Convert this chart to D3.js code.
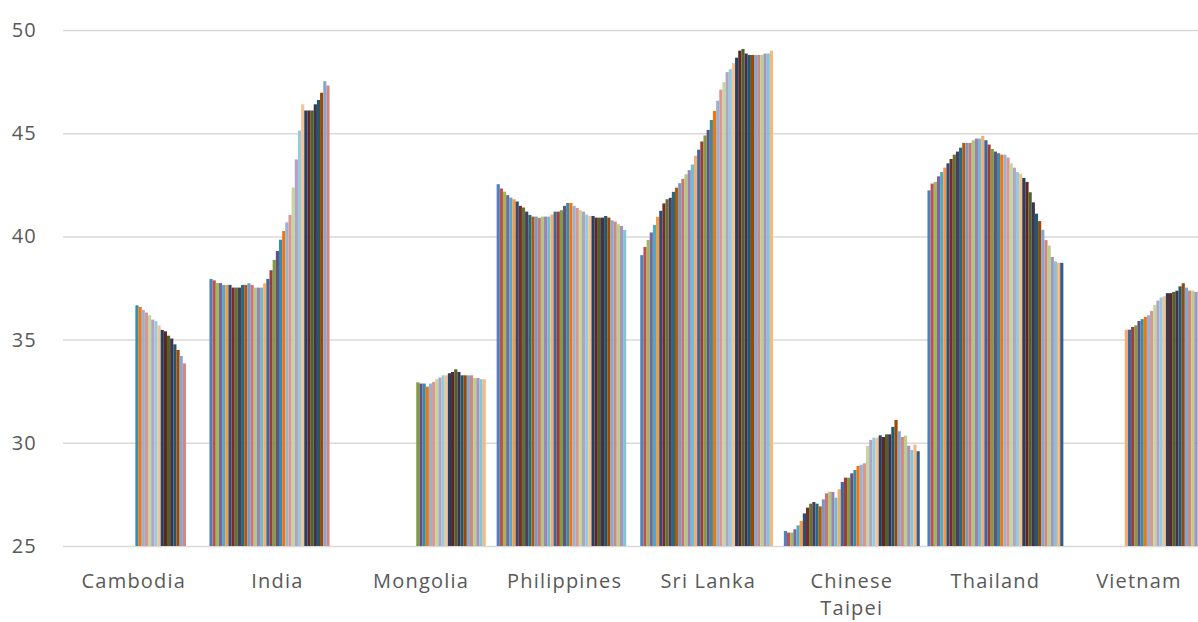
<!DOCTYPE html>
<html>
<head>
<meta charset="utf-8">
<script src="https://cdn.jsdelivr.net/npm/d3@7"></script>
<style>
  body { margin: 0; background: #ffffff; }
  .axis text { font-family: "Open Sans", sans-serif; font-size: 20px; fill: #595959; letter-spacing: 1.2px; }
  .axis .domain { display: none; }
</style>
</head>
<body>
<div id="chart"></div>
<script>
// Categories and value axis ticks
var categories = ["Cambodia", "India", "Mongolia", "Philippines", "Sri Lanka", "Chinese Taipei", "Thailand", "Vietnam"];
var yTicks = [25, 30, 35, 40, 45, 50];
var seriesCount = 43;

// One value per series (43 series, null = no data)
var cambodia = [null, null, null, null, null, null, null, null, null, null,
  null, null, null, null, null, null, null, null, null, null, null, null,
  36.66, 36.58, 36.44, 36.31, 36.18, 35.97, 35.89, 35.69, 35.47, 35.40,
  35.19, 35.05, 34.77, 34.50, 34.21, 33.85,
  null, null, null, null, null];
var india = [37.94, 37.87, 37.74, 37.74, 37.65, 37.65, 37.65, 37.52, 37.52, 37.52,
  37.65, 37.65, 37.73, 37.65, 37.52, 37.52, 37.52, 37.73, 37.94, 38.36,
  38.86, 39.29, 39.84, 40.26, 40.68, 41.04, 42.37, 43.73, 45.13, 46.40,
  46.10, 46.10, 46.10, 46.40, 46.61, 46.96, 47.52, 47.31,
  null, null, null, null, null];
var mongolia = [null, null, null, null, null, null, null, null, null, null,
  null, null, null, null, null, null, null, null, null, null,
  32.93, 32.87, 32.87, 32.72, 32.87, 32.95, 33.08, 33.16, 33.27, 33.27,
  33.37, 33.43, 33.56, 33.43, 33.27, 33.27, 33.27, 33.27, 33.14, 33.14,
  33.08, 33.08, null];
var philippines = [42.53, 42.32, 42.17, 42.00, 41.88, 41.80, 41.69, 41.48, 41.40, 41.20,
  41.04, 40.96, 40.96, 40.90, 40.96, 40.96, 40.96, 41.06, 41.20, 41.20,
  41.27, 41.48, 41.62, 41.62, 41.48, 41.38, 41.27, 41.20, 41.06, 40.99,
  40.99, 40.91, 40.91, 40.91, 40.99, 40.91, 40.78, 40.72, 40.59, 40.51,
  40.31, null, null];
var sriLanka = [39.09, 39.49, 39.83, 40.19, 40.55, 40.95, 41.24, 41.60, 41.80, 41.87,
  42.16, 42.36, 42.58, 42.79, 43.01, 43.21, 43.48, 43.91, 44.20, 44.60,
  44.89, 45.16, 45.64, 46.08, 46.57, 47.11, 47.47, 47.96, 48.10, 48.39,
  48.66, 49.00, 49.08, 48.86, 48.79, 48.79, 48.79, 48.79, 48.79, 48.86,
  48.86, 49.00, null];
var chineseTaipei = [25.73, 25.65, 25.65, 25.81, 26.00, 26.21, 26.58, 26.86, 27.05, 27.13,
  27.05, 26.92, 27.26, 27.55, 27.63, 27.62, 27.34, 27.75, 28.10, 28.31,
  28.31, 28.52, 28.68, 28.88, 28.94, 29.01, 29.85, 30.14, 30.25, 30.25,
  30.36, 30.28, 30.41, 30.41, 30.77, 31.11, 30.56, 30.28, 30.35, 29.86,
  29.65, 29.91, 29.59];
var thailand = [42.23, 42.56, 42.64, 42.91, 43.12, 43.33, 43.54, 43.75, 43.96, 44.11,
  44.30, 44.53, 44.53, 44.53, 44.66, 44.74, 44.74, 44.87, 44.66, 44.45,
  44.24, 44.11, 44.03, 43.96, 43.96, 43.82, 43.54, 43.33, 43.12, 43.04,
  42.83, 42.64, 42.14, 41.65, 41.10, 40.74, 40.32, 39.82, 39.56, 39.00,
  38.79, 38.72, 38.72];
var vietnam = [null, null, null, null, null, null, null, null, null, null,
  null, null, null, null, null, null, null,
  35.48, 35.48, 35.61, 35.69, 35.90, 35.99, 36.10, 36.18, 36.39, 36.68,
  36.89, 37.04, 37.10, 37.25, 37.25, 37.31, 37.37, 37.58, 37.73, 37.52,
  37.37, 37.37, 37.31, 37.37, 37.30, null];

var categoryValues = [cambodia, india, mongolia, philippines, sriLanka, chineseTaipei, thailand, vietnam];

// Office theme accents and the shade steps Excel cycles through after six series
var accents = ["#4F81BD", "#C0504D", "#9BBB59", "#8064A2", "#4BACC6", "#F79646"];
var shades = [[1, 0], [0.6, 0], [0.8, 0.2], [0.8, 0], [0.6, 0.4], [0.5, 0], [0.7, 0.3], [0.7, 0], [0.5, 0.5]];

function seriesColor(i) {
    var c = d3.hsl(accents[i % 6]);
    var s = shades[Math.floor(i / 6)];
    c.l = c.l * s[0] + s[1];
    return c.formatHex();
}

function init() {
    var w = 1198;
    var h = 622;
    var left = 62;
    var step = 143.6;
    var top = 30;
    var bottom = 546;

    var svg = d3.select("#chart")
        .append("svg")
        .attr("width", w)
        .attr("height", h);

    // Category scale; the plot runs past the right edge like the original
    var x0 = d3.scaleBand()
        .domain(categories)
        .range([left, left + step * categories.length])
        .paddingInner(0.0536)
        .paddingOuter(0.0268);

    var x1 = d3.scaleBand()
        .domain(d3.range(seriesCount))
        .range([0, x0.bandwidth()]);

    var y = d3.scaleLinear()
        .domain([25, 50])
        .range([bottom, top]);

    // Value axis with gridlines
    var yAxis = svg.append("g")
        .attr("class", "axis y")
        .attr("transform", "translate(" + (left + 1) + ",0)")
        .call(d3.axisLeft(y)
            .tickValues(yTicks)
            .tickSizeInner(-(w - left))
            .tickSizeOuter(0)
            .tickPadding(26));

    yAxis.selectAll(".tick line")
        .attr("stroke", "#d9d9d9")
        .attr("stroke-width", 1.5);

    // Grouped bars
    var groups = svg.append("g")
        .selectAll("g")
        .data(categories)
        .enter()
        .append("g")
        .attr("transform", function (d) { return "translate(" + x0(d) + ",0)"; });

    groups.selectAll("rect")
        .data(function (d, i) {
            return categoryValues[i]
                .map(function (v, k) { return { k: k, v: v }; })
                .filter(function (e) { return e.v !== null; });
        })
        .enter()
        .append("rect")
        .attr("x", function (d) { return x1(d.k); })
        .attr("y", function (d) { return y(d.v); })
        .attr("width", x1.bandwidth())
        .attr("height", function (d) { return y(25) - y(d.v); })
        .attr("fill", function (d) { return seriesColor(d.k); });

    // Category axis
    var xAxis = svg.append("g")
        .attr("class", "axis x")
        .attr("transform", "translate(0," + bottom + ")")
        .call(d3.axisBottom(x0).tickSize(0).tickPadding(28));

    xAxis.selectAll(".tick text").call(wrap, step - 10);
}

// Break long labels onto several lines
function wrap(text, width) {
    text.each(function () {
        var t = d3.select(this);
        var words = t.text().split(/\s+/);
        var yPos = t.attr("y");
        var dy = parseFloat(t.attr("dy"));
        var line = [];
        var lineNo = 0;
        var tspan = t.text(null).append("tspan").attr("x", 0).attr("y", yPos).attr("dy", dy + "em");
        words.forEach(function (word) {
            line.push(word);
            tspan.text(line.join(" "));
            if (tspan.node().getComputedTextLength() > width && line.length > 1) {
                line.pop();
                tspan.text(line.join(" "));
                line = [word];
                lineNo++;
                tspan = t.append("tspan").attr("x", 0).attr("y", yPos)
                    .attr("dy", (lineNo * 1.35 + dy) + "em").text(word);
            }
        });
    });
}

window.onload = init;
</script>
</body>
</html>
